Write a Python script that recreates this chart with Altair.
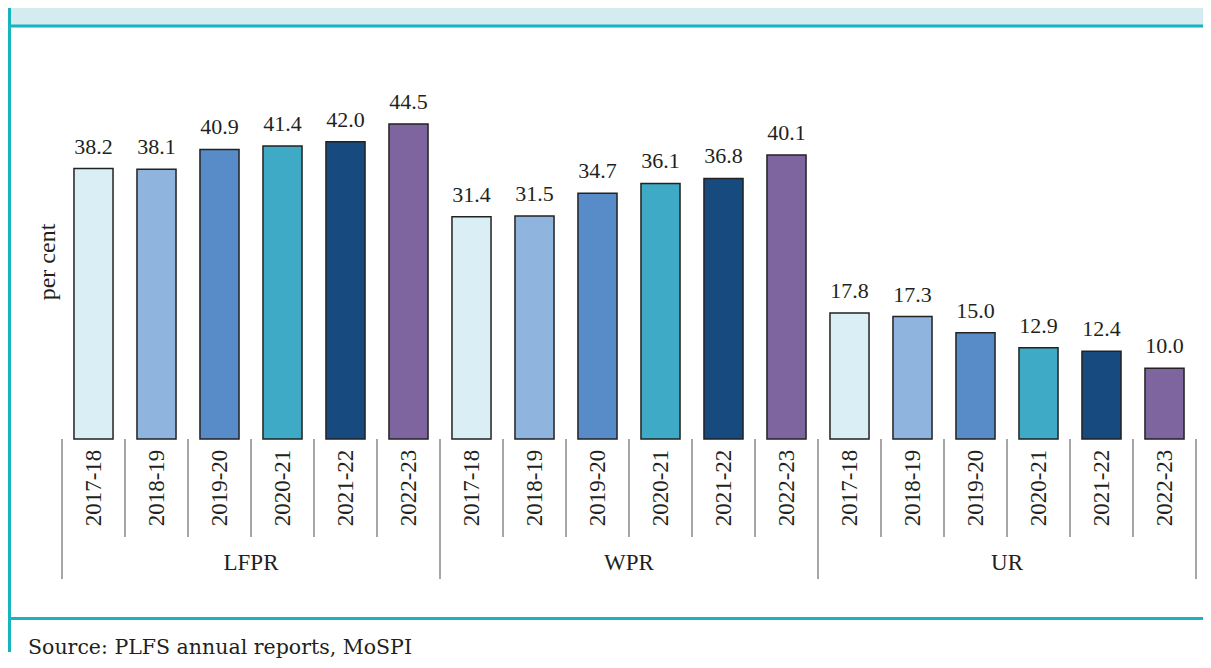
import altair as alt
import pandas as pd

groups = ["LFPR", "WPR", "UR"]
years = ["2017-18", "2018-19", "2019-20", "2020-21", "2021-22", "2022-23"]
lfpr = [38.2, 38.1, 40.9, 41.4, 42.0, 44.5]
wpr = [31.4, 31.5, 34.7, 36.1, 36.8, 40.1]
ur = [17.8, 17.3, 15.0, 12.9, 12.4, 10.0]
colors = ["#daeef5", "#8fb4de", "#588cc8", "#3faac6", "#174a7e", "#7f65a0"]
y_title = "per cent"
source = "Source: PLFS annual reports, MoSPI"

rows = []
for g, vals in zip(groups, [lfpr, wpr, ur]):
    for yr, v in zip(years, vals):
        rows.append({"key": f"{g}|{yr}", "group": g, "year": yr, "value": v})
df = pd.DataFrame(rows)
keys = list(df["key"])

W, H = 1134, 354
SERIF = "Times New Roman, Liberation Serif, serif"
TXT = "#231f20"
TEAL = "#17b3be"
GRAY = "#a6a6a6"

xk = lambda **kw: alt.X("key:N", sort=keys, scale=alt.Scale(domain=keys, paddingInner=0, paddingOuter=0), **kw)

bars = alt.Chart(df).mark_bar(width=alt.RelativeBandSize(0.62), stroke="#222222", strokeWidth=1.5).encode(
    x=xk(axis=alt.Axis(labels=False, ticks=False, title=None, domainColor=GRAY, domainWidth=2, grid=False)),
    y=alt.Y("value:Q", scale=alt.Scale(domain=[0, 50], nice=False), axis=None),
    color=alt.Color("year:N", scale=alt.Scale(domain=years, range=colors), legend=None),
)

vals = alt.Chart(df).mark_text(font=SERIF, fontSize=22, color=TXT, baseline="alphabetic", dy=-15).encode(
    x=xk(axis=None),
    y=alt.Y("value:Q"),
    text=alt.Text("value:Q", format=".1f"),
)

year_lbl = alt.Chart(df).mark_text(font=SERIF, fontSize=23, color=TXT, angle=270, align="center", baseline="middle").encode(
    x=xk(axis=None),
    y=alt.value(H + 49),
    text="year:N",
)

sep_short = alt.Chart(df).mark_rule(color=GRAY, strokeWidth=2).encode(
    x=xk(axis=None, bandPosition=0),
    y=alt.value(H),
    y2=alt.value(H + 98),
)

first_keys = df.groupby("group", sort=False)["key"].first().tolist()
gdf = pd.DataFrame({"key": first_keys})
sep_long = alt.Chart(gdf).mark_rule(color=GRAY, strokeWidth=2).encode(
    x=xk(axis=None, bandPosition=0),
    y=alt.value(H),
    y2=alt.value(H + 140),
)
end_df = pd.DataFrame({"key": [keys[-1]]})
sep_end = alt.Chart(end_df).mark_rule(color=GRAY, strokeWidth=2).encode(
    x=xk(axis=None, bandPosition=1),
    y=alt.value(H),
    y2=alt.value(H + 140),
)

mid_keys = df.groupby("group", sort=False)["key"].nth(3).tolist()
glab = pd.DataFrame({"key": mid_keys, "group": groups})
group_lbl = alt.Chart(glab).mark_text(font=SERIF, fontSize=23, color=TXT, baseline="middle", align="center").encode(
    x=xk(axis=None, bandPosition=0),
    y=alt.value(H + 124),
    text="group:N",
)

one = pd.DataFrame({"t": [y_title]})
ytitle = alt.Chart(one).mark_text(font=SERIF, fontSize=24, color=TXT, angle=270, align="center", baseline="middle").encode(
    x=alt.value(-14), y=alt.value(H / 2), text="t:N"
)

src_df = pd.DataFrame({"t": [source]})
src = alt.Chart(src_df).mark_text(font="DejaVu Serif", fontSize=20.5, color=TXT, align="left", baseline="middle").encode(
    x=alt.value(-34), y=alt.value(563), text="t:N"
)

blank = pd.DataFrame({"t": [0]})
header = alt.Chart(blank).mark_rect(color="#d4ecef").encode(
    x=alt.value(-54), x2=alt.value(1141), y=alt.value(-77), y2=alt.value(-60)
)
header_line = alt.Chart(blank).mark_rule(color=TEAL, strokeWidth=3).encode(
    x=alt.value(-54), x2=alt.value(1141), y=alt.value(-59)
)
footer_line = alt.Chart(blank).mark_rule(color=TEAL, strokeWidth=3).encode(
    x=alt.value(-54), x2=alt.value(1141), y=alt.value(533.5)
)
left_line = alt.Chart(blank).mark_rule(color=TEAL, strokeWidth=3).encode(
    x=alt.value(-52.5), y=alt.value(-77), y2=alt.value(567)
)

chart = alt.layer(
    header, header_line, footer_line, left_line,
    sep_short, sep_long, sep_end,
    bars, vals, year_lbl, group_lbl, ytitle, src,
).properties(
    width=W, height=H,
    autosize=alt.AutoSizeParams(type="none"),
    padding={"left": 54, "top": 77, "right": 7, "bottom": 221},
    background="white",
).configure_view(stroke=None)

chart.save("out.html", embed_options={"renderer": "svg", "actions": False})
